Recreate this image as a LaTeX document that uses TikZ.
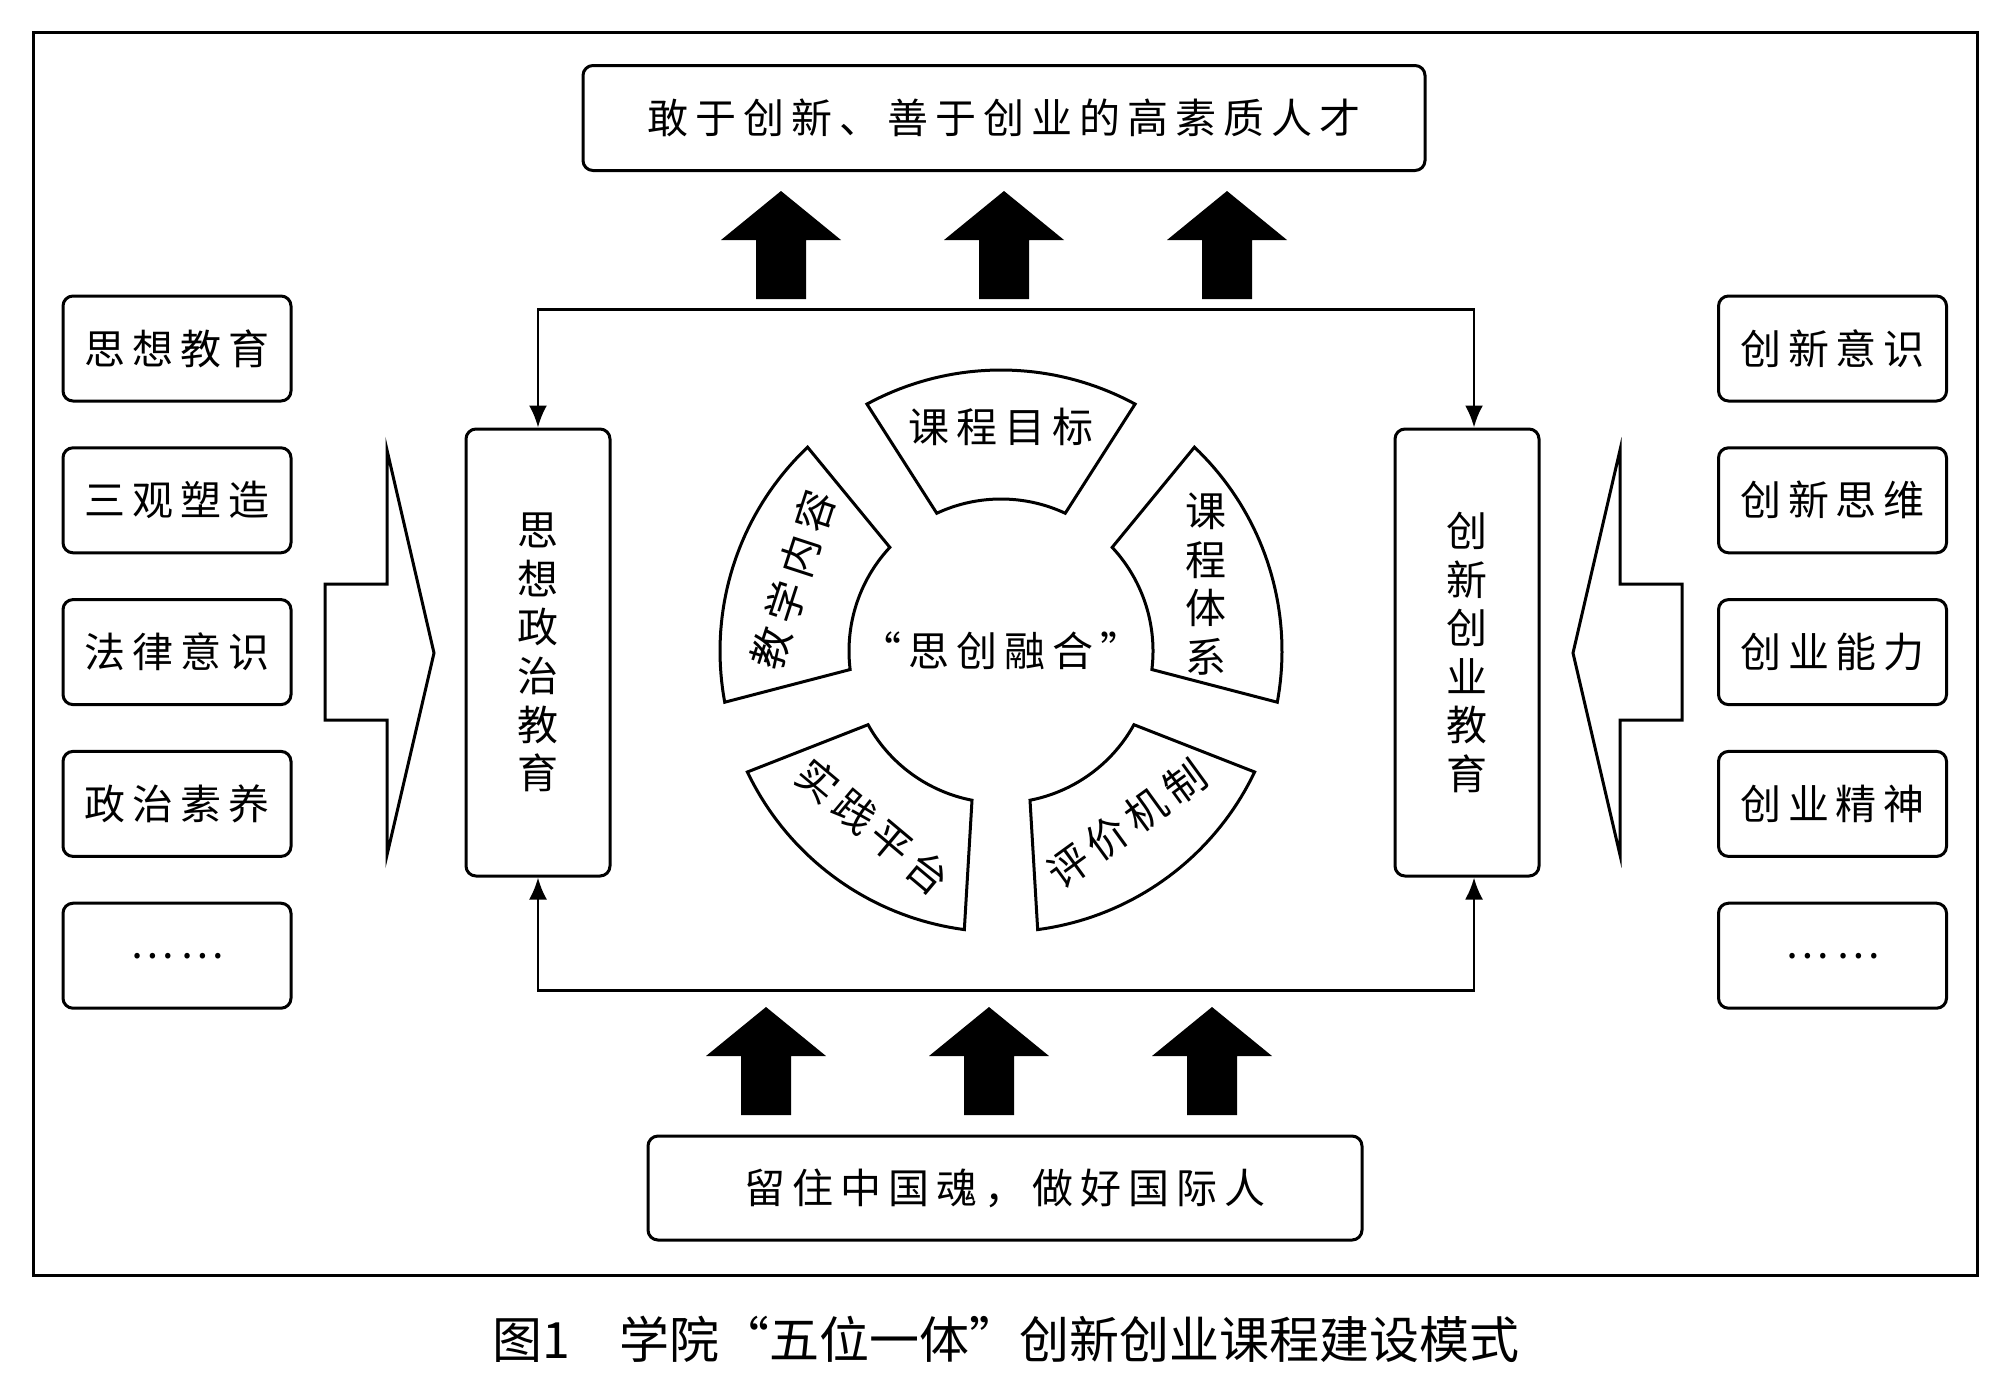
\documentclass[tikz,border=0pt]{standalone}
\usepackage{fontspec}
\newfontfamily\cjk{Noto Sans CJK SC}[LetterSpace=17]
\newfontfamily\cjkplain{Noto Sans CJK SC}
\usetikzlibrary{arrows.meta}
\newcommand\txtfont{\cjk\fontsize{20.5pt}{24.3pt}\selectfont}
\newcommand\capfont{\cjkplain\fontsize{25pt}{30pt}\selectfont}
\begin{document}
\begin{tikzpicture}[x=0.5pt,y=-0.5pt,
  box/.style={draw, line width=1.5pt, rounded corners=5pt, inner sep=0pt, font=\txtfont},
  sidebox/.style={box, minimum width=114pt, minimum height=52.5pt},
  tallbox/.style={box, minimum width=72pt, minimum height=223.5pt, align=center},
  seg/.style={draw, line width=1.5pt, line join=miter},
  ringtxt/.style={inner sep=0pt, font=\txtfont},
  conn/.style={line width=1.3pt, {Latex[length=11pt,width=9pt]}-{Latex[length=11pt,width=9pt]}},
  hollow/.style={draw, line width=1.5pt, line join=miter},
  blockup/.pic={\fill[black] (0,0) -- (60,49) -- (25,49) -- (25,108) -- (-25,108) -- (-25,49) -- (-60,49) -- cycle;}
]
\useasboundingbox (0,0) rectangle (2000,1383);
% outer frame
\draw[line width=1.5pt] (33,32) rectangle (1977,1275);

% top and bottom boxes
\node[box, minimum width=421pt, minimum height=52.5pt] (top) at (1004,118) {敢于创新、善于创业的高素质人才};
\node[box, minimum width=357pt, minimum height=52pt] (bot) at (1005,1188) {留住中国魂，做好国际人};

% block arrows
\pic (ua1) at (781,191) {blockup};
\pic (ua2) at (1004,191) {blockup};
\pic (ua3) at (1227,191) {blockup};
\pic (ba1) at (766,1007) {blockup};
\pic (ba2) at (989,1007) {blockup};
\pic (ba3) at (1212,1007) {blockup};

% left column
\node[sidebox] (l1) at (177,348.5) {思想教育};
\node[sidebox] (l2) at (177,500.3) {三观塑造};
\node[sidebox] (l3) at (177,652.1) {法律意识};
\node[sidebox] (l4) at (177,803.9) {政治素养};
\node[sidebox] (l5) at (177,955.7) {……};
% right column
\node[sidebox] (r1) at (1832.5,348.5) {创新意识};
\node[sidebox] (r2) at (1832.5,500.3) {创新思维};
\node[sidebox] (r3) at (1832.5,652.1) {创业能力};
\node[sidebox] (r4) at (1832.5,803.9) {创业精神};
\node[sidebox] (r5) at (1832.5,955.7) {……};

% tall boxes
\node[tallbox] (lbox) at (538,652.5) {思\\想\\政\\治\\教\\育};
\node[tallbox] (rbox) at (1467,652.5) {创\\新\\创\\业\\教\\育};
\coordinate (rn) at ([xshift=3.5pt]rbox.north);
\coordinate (rs) at ([xshift=3.5pt]rbox.south);

% connectors
\draw[conn] (lbox.north) -- ++(0,-118) -| (rn);
\draw[conn] (lbox.south) -- ++(0,113) -| (rs);

% hollow arrows
\draw[hollow] (325,584) -- (387,584) -- (387,450) -- (434,653) -- (387,855) -- (387,720) -- (325,720) -- cycle;
\draw[hollow] (1682,584) -- (1620,584) -- (1620,450) -- (1573,653) -- (1620,855) -- (1620,720) -- (1682,720) -- cycle;

% ring
\begin{scope}[shift={(1001,651)}]
\foreach \a in {-90,-18,54,126,198} {
  \draw[seg] plot[domain=\a-28.5:\a+28.5, samples=40] (\x:281) -- plot[domain=\a+25:\a-25, samples=40] (\x:152) -- cycle;
}
\node[ringtxt] (t1) at (-90:224) {课程目标};
\node[ringtxt, align=center] (t2) at (-18:216) {课\\程\\体\\系};
\node[ringtxt, rotate=36] (t3) at (54:214) {评价机制};
\node[ringtxt, rotate=-40] (t4) at (126:217) {实践平台};
\node[ringtxt, rotate=72] (t5) at (-161:220) {教学内容};
\node[ringtxt] (c) at (0,0) {“思创融合”};
\end{scope}

% caption
\node[inner sep=0pt, font=\capfont] (cap) at (1006,1339) {图1　学院“五位一体”创新创业课程建设模式};
\end{tikzpicture}
\end{document}
